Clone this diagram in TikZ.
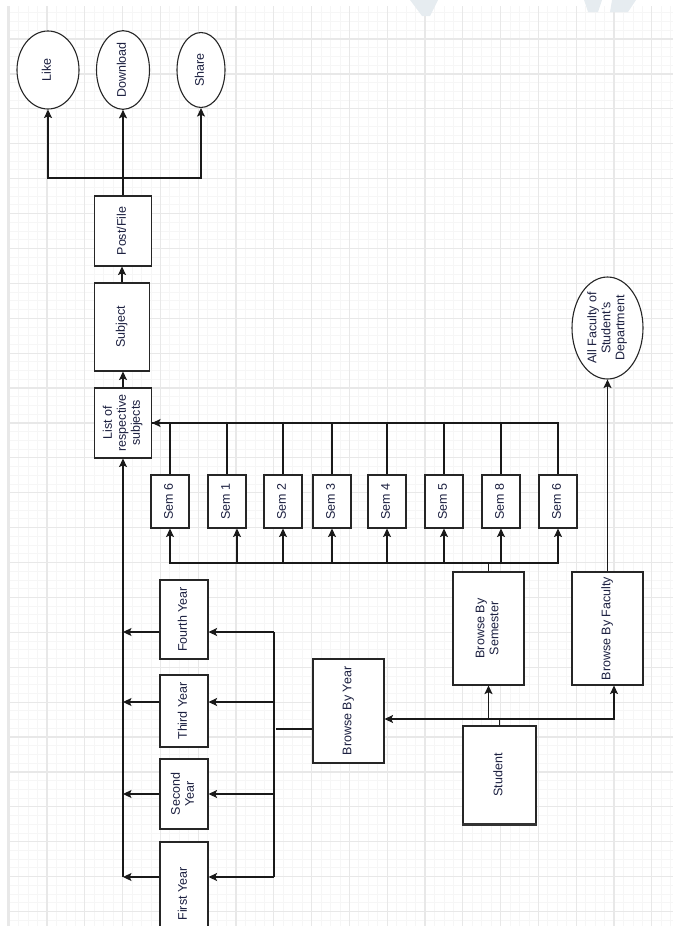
\documentclass[tikz,border=0pt]{standalone}
\usepackage{fontspec}
\setmainfont{Liberation Sans}
\usepackage{graphicx}
\usetikzlibrary{arrows.meta,shapes.geometric}
\definecolor{txt}{RGB}{28,32,64}
\definecolor{gmaj}{RGB}{232,232,232}
\definecolor{gmin}{RGB}{246,246,246}
\definecolor{wm}{RGB}{230,236,240}
\newcommand{\rt}[1]{\rotatebox{90}{\begin{tabular}{@{}c@{}}#1\end{tabular}}}
\tikzset{
  box/.style={draw=black!85, line width=1.1pt, fill=white, inner sep=0pt, text=txt,
    font=\fontsize{12.5}{14}\selectfont},
  oval/.style={ellipse, draw=black!85, line width=1.1pt, fill=white, inner sep=0pt, text=txt,
    font=\fontsize{12.5}{14}\selectfont},
  conn/.style={line width=1.1pt, black!90},
  arr/.style={conn, -{Stealth[length=8.5pt,width=8pt,inset=1.8pt]}},
}
\begin{document}
\begin{tikzpicture}[x=1pt,y=-1pt]
\useasboundingbox (0,0) rectangle (673,926);
\clip (0,0) rectangle (673,926);
% grid
\begin{scope}
\clip (8,6) rectangle (673,926);
\foreach \k in {0,...,72} {
  \draw[gmin, line width=0.8pt] ({9.2+9.45*\k},0) -- ({9.2+9.45*\k},926);
}
\foreach \k in {0,...,108} {
  \draw[gmin, line width=0.8pt] (0,{4.1+8.725*\k}) -- (673,{4.1+8.725*\k});
}
\foreach \k in {0,...,18} {
  \draw[gmaj, line width=1.2pt] ({9.2+37.8*\k},0) -- ({9.2+37.8*\k},926);
}
\foreach \k in {0,...,27} {
  \draw[gmaj, line width=1.2pt] (0,{4.1+34.9*\k}) -- (673,{4.1+34.9*\k});
}
\end{scope}
\draw[gmaj, line width=2pt] (8,6) -- (8,926);
% watermark fragments
\fill[wm] (410,0) -- (438,0) -- (430,16) -- (422,16) -- cycle;
\fill[wm] (584,0) -- (602,0) -- (598,12) -- (588,12) -- cycle;
\fill[wm] (612,0) -- (636,0) -- (628,12) -- (610,12) -- cycle;

% top ellipses
\node[oval, minimum width=62pt, minimum height=78pt] (like) at (48,70) {\rt{Like}};
\node[oval, minimum width=53pt, minimum height=78pt] (download) at (123,70) {\rt{Download}};
\node[oval, minimum width=48pt, minimum height=75pt] (share) at (201,70) {\rt{Share}};

% column of boxes
\node[box, minimum width=57pt, minimum height=70pt] (post) at (123,231) {\rt{Post/File}};
\node[box, minimum width=55pt, minimum height=88pt] (subject) at (122,327) {\rt{Subject}};
\node[box, minimum width=57pt, minimum height=70pt] (list) at (123,423) {\rt{List of\\respective\\subjects}};

% semesters
\foreach \n/\x/\t in {sa/170/Sem 6, sb/227/Sem 1, sc/283/Sem 2, sd/332/Sem 3, se/387/Sem 4, sf/444/Sem 5, sg/501/Sem 8, sh/558/Sem 6} {
  \node[box, minimum width=38pt, minimum height=53pt] (\n) at (\x,501.5) {\rt{\t}};
}

% years
\node[box, minimum width=48pt, minimum height=79pt] (fourth) at (184,619.5) {\rt{Fourth Year}};
\node[box, minimum width=48pt, minimum height=72pt] (third) at (184,711) {\rt{Third Year}};
\node[box, minimum width=48pt, minimum height=70pt] (second) at (184,794) {\rt{Second\\Year}};
\node[box, minimum width=48pt, minimum height=104pt] (first) at (184,894) {\rt{First Year}};

% browse boxes
\node[box, minimum width=71pt, minimum height=104pt] (byyear) at (348.5,711) {\rt{Browse By Year}};
\node[box, minimum width=71pt, minimum height=113pt] (bysem) at (488.5,628.5) {\rt{Browse By\\Semester}};
\node[box, minimum width=71pt, minimum height=113pt] (byfac) at (607.5,628.5) {\rt{Browse By Faculty}};
\node[box, minimum width=73pt, minimum height=98pt] (student) at (499.5,775) {\rt{Student}};
\draw[black!80, line width=2.2pt] (student.south west) -- (student.south east);
\node[oval, minimum width=71pt, minimum height=102pt] (allfac) at (607.5,328) {\rt{All Faculty of\\Student's\\Department}};

% connectors: post -> like/download/share
\coordinate (jp) at (123,178);
\draw[arr] (post.north) -- (download.south);
\draw[arr] (jp) -| (like.south);
\draw[arr] (jp) -| (share.south);
\draw[arr] (subject.north) -- (subject.north |- post.south);
\draw[arr] (list.north) -- (list.north |- subject.south);

% semester top bus into list
\foreach \n in {sa,sb,sc,sd,se,sf,sg} { \draw[conn] (\n.north) |- (list.east); }
\draw[arr] (sh.north) |- (list.east);

% semester bottom bus from Browse By Semester
\coordinate (sbus) at (488.5,563);
\draw[conn] (bysem.north) -- (sbus);
\foreach \n in {sa,sc,sd,se,sf,sg,sh} { \draw[arr] (sbus) -| (\n.south); }
\draw[arr] (sbus) -| ([xshift=10pt]sb.south);

% year boxes -> list
\foreach \n/\y in {fourth/632,third/702,second/794,first/877} {
  \draw[arr] (\n.west |- 0,\y) -- (list.south |- 0,\y);
}
\draw[arr] (list.south |- 0,877) -- (list.south);

% browse by year -> years
\coordinate (yb) at (276,729);
\draw[conn, line width=2pt] ([yshift=-18pt]byyear.west) -- (yb);
\draw[conn] (274,632) -- (274,877);
\foreach \n/\y in {fourth/632,third/702,second/794,first/877} {
  \draw[arr] (274,\y) -- (\n.east |- 0,\y);
}

% student -> browse
\coordinate (st) at (499.5,719);
\draw[conn] (student.north) -- (st);
\draw[arr] (st) -- (st -| byyear.east);
\draw[arr] (st) -| ([xshift=6.5pt]byfac.south);
\draw[arr, line width=1.8pt] (st -| bysem.south) -- (bysem.south);
\draw[arr] (byfac.north) -- (allfac.south);
\end{tikzpicture}
\end{document}
